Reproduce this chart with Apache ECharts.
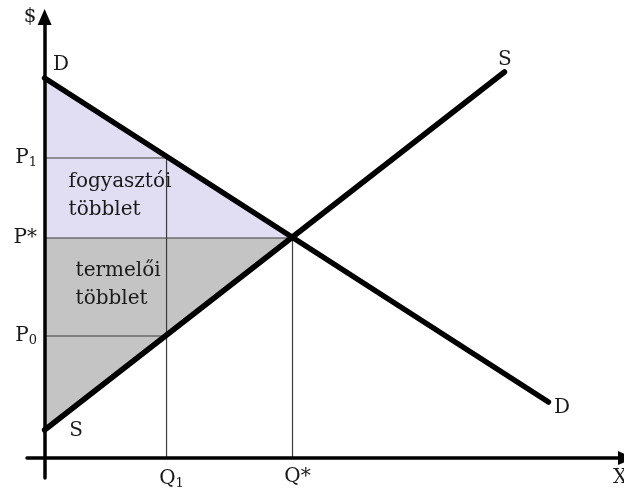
<!DOCTYPE html>
<html>
<head>
<meta charset="utf-8">
<script src="https://cdn.jsdelivr.net/npm/echarts@6/dist/echarts.min.js"></script>
<style>
  html, body { margin: 0; padding: 0; background: #fff; }
  #main { width: 624px; height: 489px; }
</style>
</head>
<body>
<div id="main"></div>
<script>
// kereslet / kínálat – értékek
var demandLine = [[0, 95], [126, 14]];
var supplyLine = [[0, 7], [115, 96.5]];
var priceStar = 55, price1 = 75, price0 = 30.5;
var qtyStar = 62, qty1 = 30.5;

var yTickValues = [price0, priceStar, price1];
var yTickLabels = ['{p|P}{s|0}', '{p|P*}', '{p|P}{s|1}'];
var xTickValues = [qty1, qtyStar];
var xTickLabels = ['{p|Q}{s|1}', '{p|Q*}'];

var demandNames = ['D', 'D'];
var supplyNames = ['S', 'S'];

var consumerArea = [[0, demandLine[0][1]], [0, priceStar], [qtyStar, priceStar]];
var producerArea = [[0, priceStar], [0, supplyLine[0][1]], [qtyStar, priceStar]];
var guideLines = [
  [[0, price1], [qty1, price1], [qty1, 0]],
  [[0, price0], [qty1, price0]],
  [[0, priceStar], [qtyStar, priceStar], [qtyStar, 0]]
];

var FONT = '"DejaVu Serif", "Liberation Serif", serif';
var TEXT_COLOR = '#1a1a1a';

var richLabel = {
  p: { fontSize: 20, fontFamily: FONT, color: TEXT_COLOR },
  s: { fontSize: 13, fontFamily: FONT, color: TEXT_COLOR, padding: [10, 0, 0, 0] }
};

function tickFormatter(values, labels) {
  return function (v) {
    var i = values.indexOf(v);
    return i >= 0 ? labels[i] : '';
  };
}

function areaSeries(points, color, text, offset) {
  return {
    type: 'custom',
    coordinateSystem: 'cartesian2d',
    silent: true,
    z: 1,
    data: [[0, priceStar]],
    renderItem: function (params, api) {
      var pts = points.map(function (p) { return api.coord(p); });
      var anchor = api.coord([0, priceStar]);
      return {
        type: 'group',
        children: [
          { type: 'polygon', shape: { points: pts }, style: { fill: color } },
          {
            type: 'text',
            x: anchor[0] + offset[0],
            y: anchor[1] + offset[1],
            style: {
              text: text,
              fill: TEXT_COLOR,
              font: '20px ' + FONT,
              verticalAlign: 'middle',
              lineHeight: 28
            }
          }
        ]
      };
    }
  };
}

function curveSeries(points, names, offsets) {
  return {
    type: 'line',
    z: 4,
    symbol: 'circle',
    symbolSize: 1,
    itemStyle: { color: '#000' },
    lineStyle: { color: '#000', width: 5.5, cap: 'round' },
    data: points.map(function (p, i) {
      return {
        value: p,
        label: {
          show: true,
          formatter: names[i],
          position: offsets[i],
          align: 'center',
          verticalAlign: 'middle',
          fontSize: 20,
          fontFamily: FONT,
          color: TEXT_COLOR
        }
      };
    })
  };
}

var series = [
  areaSeries(consumerArea, '#e1ddf2', 'fogyasztói\ntöbblet', [24, -42]),
  areaSeries(producerArea, '#c4c4c4', 'termelői\ntöbblet', [31, 47])
];
guideLines.forEach(function (g) {
  series.push({
    type: 'line',
    z: 3,
    symbol: 'none',
    silent: true,
    lineStyle: { color: '#3c3c3c', width: 1.2 },
    data: g
  });
});
series.push(curveSeries(demandLine, demandNames, [[17, -13], [14, 6]]));
series.push(curveSeries(supplyLine, supplyNames, [[32, 1], [1, -12]]));

var chart = echarts.init(document.getElementById('main'));
chart.setOption({
  animation: false,
  backgroundColor: '#fff',
  grid: { left: 27, right: -2, top: 17, bottom: 11, containLabel: false, outerBoundsMode: 'none' },
  xAxis: {
    type: 'value',
    min: -4.4,
    max: 145.4,
    z: 6,
    name: 'X',
    nameLocation: 'end',
    nameGap: -6,
    nameTextStyle: {
      fontSize: 20, fontFamily: FONT, color: TEXT_COLOR,
      align: 'center', verticalAlign: 'top', padding: [10, 0, 0, 0]
    },
    axisLine: {
      show: true, onZero: true,
      symbol: ['none', 'triangle'], symbolSize: [14, 16],
      lineStyle: { color: '#000', width: 3.5 }
    },
    axisTick: { show: false },
    splitLine: { show: false },
    axisLabel: {
      customValues: xTickValues,
      formatter: tickFormatter(xTickValues, xTickLabels),
      margin: -11,
      padding: [0, 0, 0, 10],
      rich: richLabel
    }
  },
  yAxis: {
    type: 'value',
    min: -5,
    max: 110.25,
    z: 6,
    name: '$',
    nameLocation: 'end',
    nameGap: 0,
    nameTextStyle: {
      fontSize: 20, fontFamily: FONT, color: TEXT_COLOR,
      align: 'right', verticalAlign: 'middle', padding: [0, 8, 0, 0]
    },
    axisLine: {
      show: true, onZero: true,
      symbol: ['none', 'triangle'], symbolSize: [14, 16],
      lineStyle: { color: '#000', width: 3.5 }
    },
    axisTick: { show: false },
    splitLine: { show: false },
    axisLabel: {
      customValues: yTickValues,
      formatter: tickFormatter(yTickValues, yTickLabels),
      margin: -10,
      rich: richLabel
    }
  },
  series: series
});
</script>
</body>
</html>
